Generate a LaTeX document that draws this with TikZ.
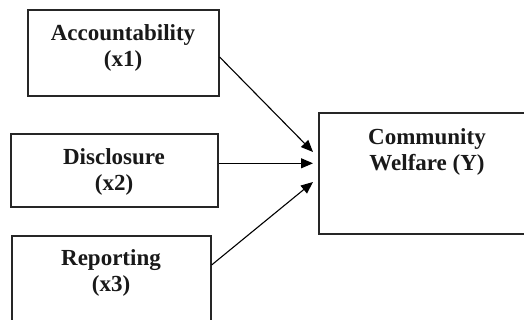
\documentclass[tikz,border=0pt]{standalone}
\usepackage{fontspec}
\setmainfont{Liberation Serif}
\usetikzlibrary{arrows.meta}
\begin{document}
\begin{tikzpicture}[x=1pt,y=-1pt,
  boxstyle/.style={draw=black!85,line width=1.2pt,rectangle,inner sep=0pt},
  lbl/.style={align=center,font=\fontsize{23}{26}\selectfont\bfseries,inner sep=0pt,text=black!90},
  conn/.style={line width=1.1pt,-{Triangle[length=12pt,width=10pt]}}]
\useasboundingbox (0,0) rectangle (524,320);
\clip (0,0) rectangle (524,320);
\node[boxstyle,minimum width=191pt,minimum height=86pt] (b1) at (123.5,53) {};
\node[boxstyle,minimum width=207pt,minimum height=73pt] (b2) at (114.5,170.5) {};
\node[boxstyle,minimum width=199pt,minimum height=120pt] (b3) at (111.5,296) {};
\node[boxstyle,minimum width=220pt,minimum height=121pt] (bY) at (429,173.5) {};
\node[lbl] (t1) at (123,48) {Accountability\\(x1)};
\node[lbl] (t2) at (114,172) {Disclosure\\(x2)};
\node[lbl] (t3) at (111,273) {Reporting\\(x3)};
\node[lbl] (tY) at (427,152) {Community\\Welfare (Y)};
\coordinate (e1) at (313,152);
\coordinate (e2) at (313,163.3);
\coordinate (e3) at (313,182);
\draw[conn] (b1.east |- 0,57) -- (e1);
\draw[conn] (b2.east |- e2) -- (e2);
\draw[conn] (b3.east |- 0,265) -- (e3);
\end{tikzpicture}
\end{document}
